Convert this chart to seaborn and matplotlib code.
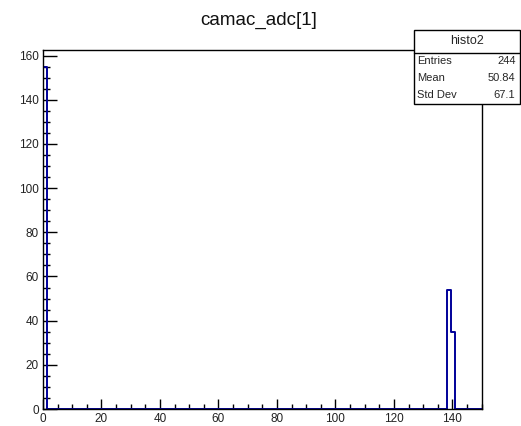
import numpy as np
import pandas as pd
import matplotlib
matplotlib.use("Agg")
import matplotlib.pyplot as plt
from matplotlib.patches import Rectangle
from matplotlib.lines import Line2D
from matplotlib.ticker import MultipleLocator
import seaborn as sns

# ---- data ----
title = "camac_adc[1]"
hist_name = "histo2"
adc_values = [0, 139, 140]          # channel values
adc_counts = [155, 54, 35]          # entries at each value
bin_lo, bin_hi, n_bins = 0.0, 150.0, 100

sns.set_theme(style="white")
plt.rcParams['font.family'] = ['Liberation Sans', 'DejaVu Sans']

df = pd.DataFrame({"adc": adc_values, "n": adc_counts})

W, H = 521, 426
fig = plt.figure(figsize=(W / 100, H / 100), dpi=100)
fig.patch.set_facecolor("white")
ax_l, ax_r, ax_t, ax_b = 43, 481.7, 49.5, 409
ax = fig.add_axes([ax_l / W, 1 - ax_b / H, (ax_r - ax_l) / W, (ax_b - ax_t) / H])

sns.histplot(data=df, x="adc", weights="n", bins=n_bins, binrange=(bin_lo, bin_hi),
             element="step", fill=False, color="#000099", linewidth=1.4, ax=ax, zorder=2)

ax.set_xlim(bin_lo, bin_hi)
ymax = max(adc_counts) * 1.05
ax.set_ylim(0, ymax)
ax.set_xlabel("")
ax.set_ylabel("")
ax.xaxis.set_major_locator(MultipleLocator(20))
ax.xaxis.set_minor_locator(MultipleLocator(5))
ax.yaxis.set_major_locator(MultipleLocator(20))
ax.yaxis.set_minor_locator(MultipleLocator(5))
ax.tick_params(axis="both", which="both", direction="in", color="black",
               bottom=True, left=True, top=False, right=False,
               width=1.0, labelsize=8.5, labelcolor="#222222")
ax.tick_params(axis="x", which="major", length=7.2, pad=3)
ax.tick_params(axis="x", which="minor", length=3.6)
ax.tick_params(axis="y", which="major", length=10, pad=3)
ax.tick_params(axis="y", which="minor", length=5)
for s in ax.spines.values():
    s.set_color("black")
    s.set_linewidth(1.0)
    s.set_zorder(3)
ax.grid(False)

fig.text(259 / W, 1 - 20 / H, title, ha="center", va="center", fontsize=13.5, color="#111111")

# ---- stats box ----
vals = np.repeat(adc_values, adc_counts).astype(float)
entries = int(np.sum(adc_counts))
mean = vals.mean()
std = vals.std()

bx0, bx1, by0, by1 = 414, 519.5, 30, 104
fig.patches.append(Rectangle((bx0 / W, 1 - by1 / H), (bx1 - bx0) / W, (by1 - by0) / H,
                             transform=fig.transFigure, facecolor="white",
                             edgecolor="black", linewidth=1.0, zorder=10))
fig.lines.append(Line2D([bx0 / W, bx1 / W], [1 - 53 / H, 1 - 53 / H],
                        transform=fig.transFigure, color="black", linewidth=1.0, zorder=11))
fig.text((bx0 + bx1) / 2 / W, 1 - 41 / H, hist_name, ha="center", va="center",
         fontsize=9, zorder=12)
rows = [("Entries", f"{entries}"), ("Mean", f"{mean:.4g}"), ("Std Dev", f"{std:.4g}")]
for (lab, v), yy in zip(rows, [61, 78, 95]):
    fig.text((bx0 + 3) / W, 1 - yy / H, lab, ha="left", va="center", fontsize=8, zorder=12)
    fig.text((bx1 - 4) / W, 1 - yy / H, v, ha="right", va="center", fontsize=8, zorder=12)

fig.savefig("out.png", dpi=100, facecolor="white")
